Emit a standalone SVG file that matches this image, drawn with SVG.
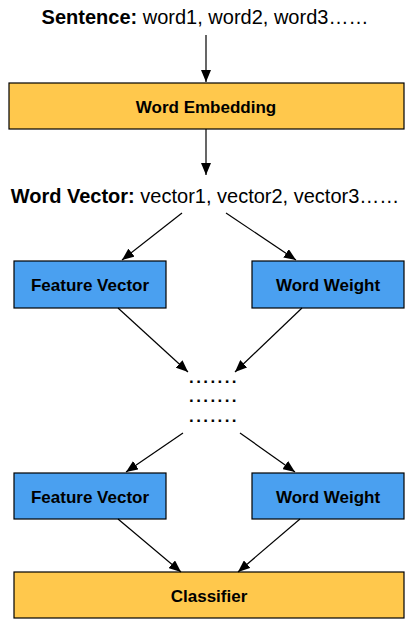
<svg xmlns="http://www.w3.org/2000/svg" width="415" height="630" viewBox="0 0 415 630">
<style>
.t{font-family:"Liberation Sans",Arial,sans-serif;font-size:20px;fill:#000}
.b{font-weight:bold}
.lbl{font-family:"Liberation Sans",Arial,sans-serif;font-size:17px;font-weight:bold;fill:#000;text-anchor:middle}
.y{fill:#FFC84C;stroke:#000;stroke-width:1.2}
.bl{fill:#4AA0F0;stroke:#000;stroke-width:1.2}
.c{stroke:#000;stroke-width:1.2;fill:none;marker-end:url(#ah)}
.d{font-family:"Liberation Sans",Arial,sans-serif;font-size:17px;font-weight:bold;letter-spacing:2.4px;text-anchor:middle}
</style>
<defs>
<marker id="ah" viewBox="0 0 12 10" refX="12" refY="5" markerWidth="12" markerHeight="10" markerUnits="userSpaceOnUse" orient="auto">
<path d="M0,0 L12,5 L0,10 z" fill="#000"/>
</marker>
</defs>
<g id="sentence"><text class="t" x="205" y="24" text-anchor="middle"><tspan class="b">Sentence:</tspan> word1, word2, word3……</text></g>
<g id="word-embedding"><rect class="y" x="9" y="83" width="395" height="46"/><text class="lbl" x="206" y="113">Word Embedding</text></g>
<g id="word-vector"><text class="t" x="205" y="203" text-anchor="middle"><tspan class="b">Word Vector:</tspan> vector1, vector2, vector3……</text></g>
<g id="feature-vector-1"><rect class="bl" x="14" y="261" width="152" height="47"/><text class="lbl" x="90" y="291">Feature Vector</text></g>
<g id="word-weight-1"><rect class="bl" x="252" y="261" width="152" height="47"/><text class="lbl" x="328" y="291">Word Weight</text></g>
<g id="dots"><text class="d" x="214" y="383">.......</text><text class="d" x="214" y="402">.......</text><text class="d" x="214" y="422">.......</text></g>
<g id="feature-vector-2"><rect class="bl" x="14" y="473" width="152" height="46"/><text class="lbl" x="90" y="503">Feature Vector</text></g>
<g id="word-weight-2"><rect class="bl" x="252" y="473" width="152" height="46"/><text class="lbl" x="328" y="503">Word Weight</text></g>
<g id="classifier"><rect class="y" x="14" y="572" width="390" height="46"/><text class="lbl" x="209" y="602">Classifier</text></g>
<g id="connectors">
<path class="c" d="M206,35 L206,82"/>
<path class="c" d="M206,129 L206,175"/>
<path class="c" d="M182,213 L122,260"/>
<path class="c" d="M226,213 L296,260"/>
<path class="c" d="M118,308 L188,372"/>
<path class="c" d="M302,308 L235,372"/>
<path class="c" d="M183,433 L126,472"/>
<path class="c" d="M240,433 L295,472"/>
<path class="c" d="M118,519 L181,572"/>
<path class="c" d="M300,519 L238,572"/>
</g>
</svg>
